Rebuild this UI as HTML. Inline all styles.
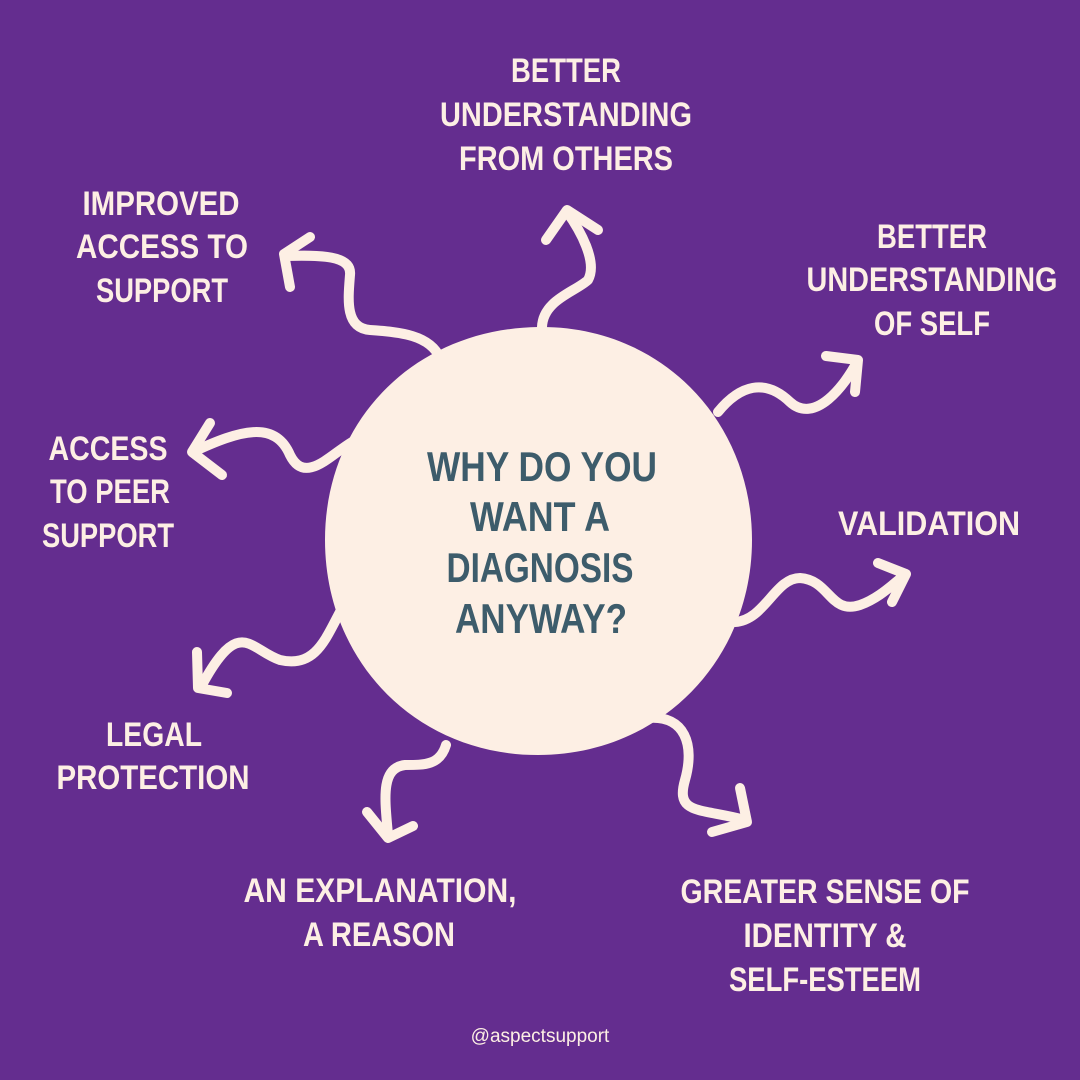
<!DOCTYPE html>
<html><head><meta charset="utf-8"><style>
html,body{margin:0;padding:0;background:#642d8f}
svg{display:block}
.l{font-family:"Liberation Sans Narrow","Liberation Sans",sans-serif;font-weight:bold;font-size:34px;fill:#fdefe4}
.c{font-family:"Liberation Sans Narrow","Liberation Sans",sans-serif;font-weight:bold;font-size:42px;fill:#3d5c6b}
</style></head><body>
<svg width="1080" height="1080" viewBox="0 0 1080 1080" xmlns="http://www.w3.org/2000/svg">
<rect width="1080" height="1080" fill="#642d8f"/>
<g fill="none" stroke="#fdefe4" stroke-width="10" stroke-linecap="round" stroke-linejoin="round">
<path d="M440 358 C430 335 400 332 370 330 C345 328 348 300 350 275 C352 255 320 255 285 256"/>
<path d="M310 237 L284 254 L290 287"/>
<path d="M542 327 C543 300 575 292 588 280 C598 262 580 230 567 212"/>
<path d="M546 240 L567 210 L598 230"/>
<path d="M352 442 C330 455 305 485 290 455 C275 420 240 430 193 452"/>
<path d="M210 423 L192 452 L222 475"/>
<path d="M340 612 C325 640 315 668 280 660 C250 650 240 615 202 685"/>
<path d="M197 652 L198 688 L227 693"/>
<path d="M446 745 C440 765 425 765 405 765 C380 768 385 800 388 835"/>
<path d="M367 812 L388 838 L413 826"/>
<path d="M648 718 C685 715 695 745 685 780 C675 815 700 808 745 820"/>
<path d="M740 788 L747 822 L712 832"/>
<path d="M735 622 C765 620 775 578 800 578 C830 580 830 615 860 605 C880 598 895 582 905 575"/>
<path d="M878 563 L906 574 L892 602"/>
<path d="M718 412 C740 385 765 378 790 402 C815 425 845 385 857 362"/>
<path d="M826 356 L858 360 L855 392"/>
</g>
<path d="M538 327 C660 325 752 420 752 540 C752 660 660 755 538 755 C415 755 325 660 325 540 C325 420 415 329 538 327 Z" fill="#fdefe4"/>
<g class="c" text-anchor="middle">
<text x="542" y="481" textLength="230" lengthAdjust="spacingAndGlyphs">WHY DO YOU</text>
<text x="540" y="531" textLength="140" lengthAdjust="spacingAndGlyphs">WANT A</text>
<text x="540" y="582" textLength="187" lengthAdjust="spacingAndGlyphs">DIAGNOSIS</text>
<text x="541" y="633" textLength="172" lengthAdjust="spacingAndGlyphs">ANYWAY?</text>
</g>
<g class="l" text-anchor="middle" lengthAdjust="spacingAndGlyphs">
<text x="566" y="82" textLength="110" lengthAdjust="spacingAndGlyphs">BETTER</text>
<text x="566" y="126" textLength="252" lengthAdjust="spacingAndGlyphs">UNDERSTANDING</text>
<text x="566" y="170" textLength="214" lengthAdjust="spacingAndGlyphs">FROM OTHERS</text>
<text x="161" y="215" textLength="157" lengthAdjust="spacingAndGlyphs">IMPROVED</text>
<text x="162" y="258" textLength="172" lengthAdjust="spacingAndGlyphs">ACCESS TO</text>
<text x="162" y="302" textLength="132" lengthAdjust="spacingAndGlyphs">SUPPORT</text>
<text x="932" y="248" textLength="110" lengthAdjust="spacingAndGlyphs">BETTER</text>
<text x="932" y="291" textLength="251" lengthAdjust="spacingAndGlyphs">UNDERSTANDING</text>
<text x="932" y="335" textLength="116" lengthAdjust="spacingAndGlyphs">OF SELF</text>
<text x="108" y="460" textLength="119" lengthAdjust="spacingAndGlyphs">ACCESS</text>
<text x="110" y="503" textLength="120" lengthAdjust="spacingAndGlyphs">TO PEER</text>
<text x="108" y="547" textLength="132" lengthAdjust="spacingAndGlyphs">SUPPORT</text>
<text x="929" y="535" textLength="182" lengthAdjust="spacingAndGlyphs">VALIDATION</text>
<text x="154" y="746" textLength="96" lengthAdjust="spacingAndGlyphs">LEGAL</text>
<text x="153" y="789" textLength="193" lengthAdjust="spacingAndGlyphs">PROTECTION</text>
<text x="380" y="902" textLength="273" lengthAdjust="spacingAndGlyphs">AN EXPLANATION,</text>
<text x="379" y="946" textLength="152" lengthAdjust="spacingAndGlyphs">A REASON</text>
<text x="825" y="903" textLength="289" lengthAdjust="spacingAndGlyphs">GREATER SENSE OF</text>
<text x="825" y="947" textLength="163" lengthAdjust="spacingAndGlyphs">IDENTITY &amp;</text>
<text x="825" y="991" textLength="192" lengthAdjust="spacingAndGlyphs">SELF-ESTEEM</text>
</g>
<text x="540" y="1042" text-anchor="middle" style="font-family:'Liberation Sans',sans-serif;font-size:19px;fill:#fdefe4">@aspectsupport</text>
</svg>
</body></html>
